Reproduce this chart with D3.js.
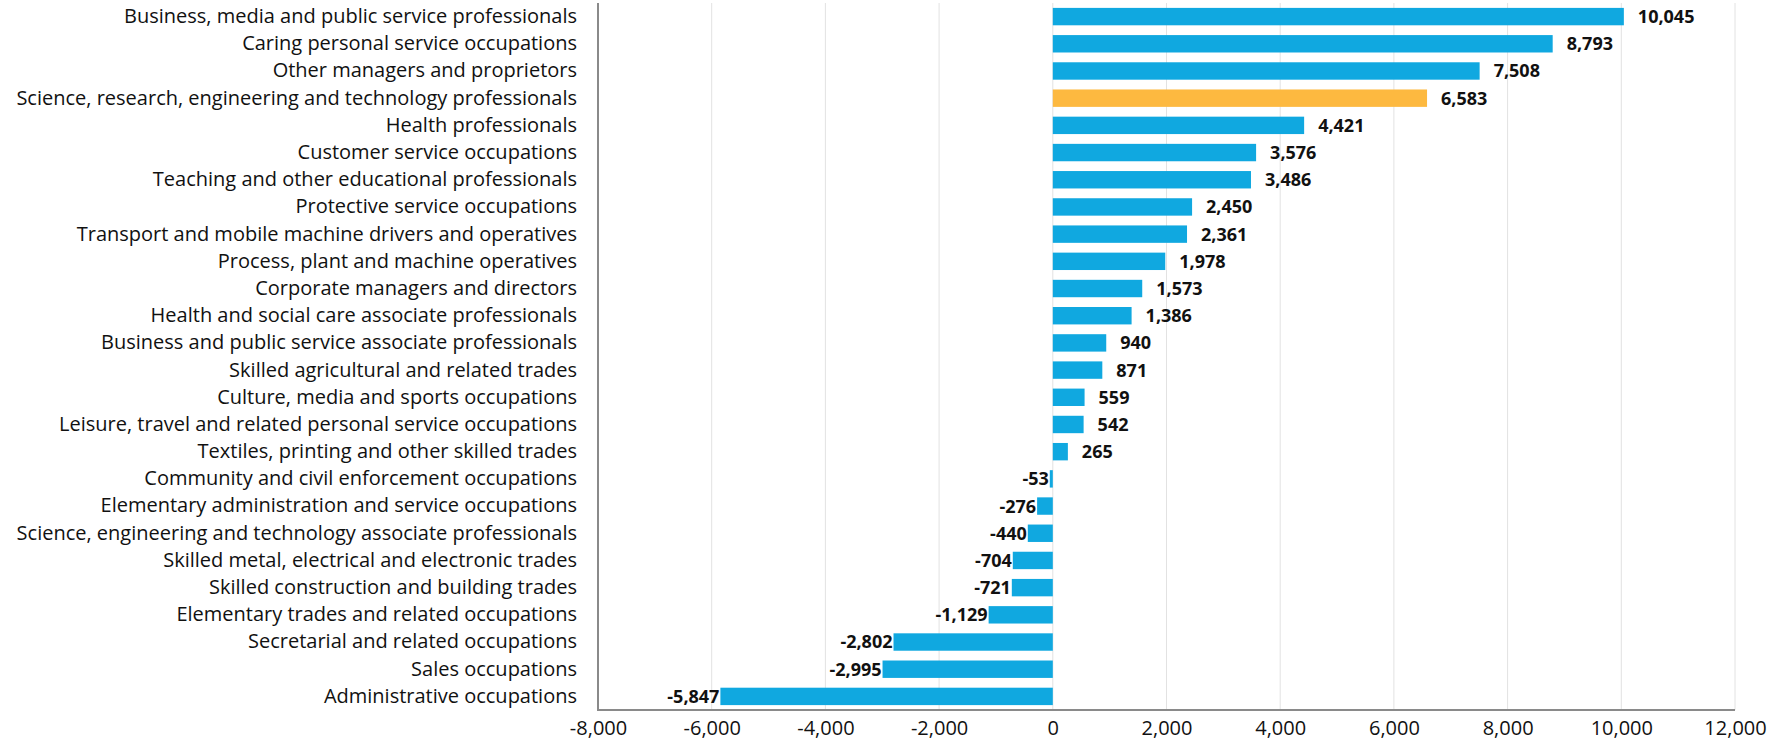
<!DOCTYPE html>
<html>
<head>
<meta charset="utf-8">
<script src="https://cdn.jsdelivr.net/npm/d3@7"></script>
<style>
  html, body { margin: 0; padding: 0; background: #fff; }
  svg { display: block; font-family: "Open Sans", "Lato", sans-serif; }
</style>
</head>
<body>
<svg id="chart" width="1788" height="754"></svg>
<script>
const categories = [
  "Business, media and public service professionals",
  "Caring personal service occupations",
  "Other managers and proprietors",
  "Science, research, engineering and technology professionals",
  "Health professionals",
  "Customer service occupations",
  "Teaching and other educational professionals",
  "Protective service occupations",
  "Transport and mobile machine drivers and operatives",
  "Process, plant and machine operatives",
  "Corporate managers and directors",
  "Health and social care associate professionals",
  "Business and public service associate professionals",
  "Skilled agricultural and related trades",
  "Culture, media and sports occupations",
  "Leisure, travel and related personal service occupations",
  "Textiles, printing and other skilled trades",
  "Community and civil enforcement occupations",
  "Elementary administration and service occupations",
  "Science, engineering and technology associate professionals",
  "Skilled metal, electrical and electronic trades",
  "Skilled construction and building trades",
  "Elementary trades and related occupations",
  "Secretarial and related occupations",
  "Sales occupations",
  "Administrative occupations"
];
const values = [10045, 8793, 7508, 6583, 4421, 3576, 3486, 2450, 2361, 1978, 1573, 1386,
  940, 871, 559, 542, 265, -53, -276, -440, -704, -721, -1129, -2802, -2995, -5847];
const highlighted = ["Science, research, engineering and technology professionals"];
const xTicks = [-8000, -6000, -4000, -2000, 0, 2000, 4000, 6000, 8000, 10000, 12000];

const svg = d3.select("#chart");
const mLeft = 598, mRight = 1735, mTop = 3, mBottom = 710;

const x = d3.scaleLinear().domain([-8000, 12000]).range([mLeft, mRight]);
const y = d3.scaleBand().domain(categories).range([mTop, mBottom]).paddingInner(0.36).paddingOuter(0.18);
const fmt = d3.formatLocale({decimal: ".", thousands: ",", grouping: [3], currency: ["", ""], minus: "-"}).format(",");

// gridlines
svg.append("g").selectAll("line").data(xTicks.filter(t => t > -8000)).join("line")
  .attr("x1", d => x(d)).attr("x2", d => x(d))
  .attr("y1", mTop).attr("y2", mBottom)
  .attr("stroke", "#e2e2e2").attr("stroke-width", 1);

// bars
svg.append("g").selectAll("rect").data(categories).join("rect")
  .attr("x", (d, i) => x(Math.min(0, values[i])))
  .attr("width", (d, i) => Math.abs(x(values[i]) - x(0)))
  .attr("y", d => y(d))
  .attr("height", y.bandwidth())
  .attr("fill", d => highlighted.includes(d) ? "#fdb940" : "#10a8e0");

// value labels
svg.append("g").selectAll("text").data(categories).join("text")
  .attr("x", (d, i) => values[i] >= 0 ? x(values[i]) + 14 : x(values[i]) - 1)
  .attr("y", d => y(d) + y.bandwidth() / 2)
  .attr("dy", "0.36em")
  .attr("text-anchor", (d, i) => values[i] >= 0 ? "start" : "end")
  .attr("font-size", 18)
  .attr("font-weight", "bold")
  .attr("fill", "#111")
  .text((d, i) => fmt(values[i]));

// y axis (category labels)
const yAxis = d3.axisLeft(y).tickSize(0).tickPadding(21);
const gy = svg.append("g").attr("transform", `translate(${mLeft},0)`).call(yAxis);
gy.select(".domain").remove();
gy.attr("font-family", null).attr("font-size", null);
gy.selectAll("text").attr("font-size", 20).attr("fill", "#111");

// x axis
const xAxis = d3.axisBottom(x).tickValues(xTicks).tickFormat(fmt).tickSize(0).tickPadding(11);
const gx = svg.append("g").attr("transform", `translate(0,${mBottom})`).call(xAxis);
gx.select(".domain").remove();
gx.attr("font-family", null).attr("font-size", null);
gx.selectAll("text").attr("font-size", 20).attr("fill", "#111");

// axis lines
svg.append("line").attr("x1", mLeft).attr("x2", mLeft).attr("y1", mTop).attr("y2", mBottom + 1)
  .attr("stroke", "#8a8a8a").attr("stroke-width", 2);
svg.append("line").attr("x1", mLeft - 1).attr("x2", mRight).attr("y1", mBottom).attr("y2", mBottom)
  .attr("stroke", "#8a8a8a").attr("stroke-width", 2);
</script>
</body>
</html>
